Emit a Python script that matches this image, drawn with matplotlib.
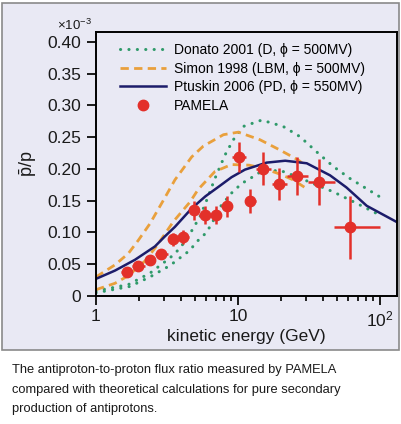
import matplotlib
matplotlib.use("Agg")
import matplotlib.pyplot as plt
from matplotlib.patches import Rectangle
from matplotlib.lines import Line2D
from matplotlib.legend_handler import HandlerLine2D
from matplotlib.ticker import FixedLocator, FixedFormatter, LogLocator, NullFormatter

plt.rcParams["font.family"] = ["Liberation Sans", "DejaVu Sans"]
plt.rcParams["mathtext.fontset"] = "custom"
plt.rcParams["mathtext.rm"] = "Liberation Sans"
plt.rcParams["mathtext.it"] = "Liberation Sans:italic"

# PAMELA antiproton / proton ratio (units of 1e-3)
pamela_e = [1.64, 1.99, 2.40, 2.87, 3.47, 4.12, 4.92, 5.86, 6.96, 8.32,
            10.2, 12.2, 15.1, 19.5, 26.0, 37.4, 61.5]
pamela_ratio = [0.038, 0.048, 0.057, 0.066, 0.089, 0.093, 0.135, 0.128, 0.128, 0.141,
                0.219, 0.150, 0.200, 0.176, 0.189, 0.179, 0.108]
pamela_err = [0.005, 0.005, 0.006, 0.007, 0.010, 0.011, 0.015, 0.014, 0.014, 0.016,
              0.024, 0.019, 0.026, 0.025, 0.030, 0.036, 0.049]
bin_lo = [1.5, 1.8, 2.2, 2.6, 3.2, 3.8, 4.5, 5.3, 6.4, 7.6,
          9.1, 11.3, 13.5, 17.5, 22.0, 30.9, 47.5]
bin_hi = [1.8, 2.2, 2.6, 3.2, 3.8, 4.5, 5.3, 6.4, 7.6, 9.1,
          11.3, 13.4, 17.0, 22.2, 30.9, 48.4, 100.0]

# Donato 2001, upper and lower curves (dotted)
donato_hi_e = [1, 1.69, 2.4, 3.32, 3.9, 4.59, 5.4, 6.0, 6.88, 8.1, 9.27, 10.9,
               14.7, 20.8, 27.3, 35.8, 46.9, 61.5, 100]
donato_hi = [0.008, 0.018, 0.036, 0.060, 0.075, 0.098, 0.125, 0.150, 0.185, 0.222, 0.246, 0.267,
             0.277, 0.267, 0.251, 0.227, 0.204, 0.185, 0.156]
donato_lo_e = [1, 1.73, 2.4, 3.32, 3.9, 4.59, 5.1, 6.0, 6.68, 7.47, 9.0, 10.6,
               12.8, 14.3, 19.7, 25.8, 46.9, 68.4, 94.7]
donato_lo = [0.005, 0.015, 0.030, 0.048, 0.060, 0.072, 0.085, 0.100, 0.118, 0.140, 0.162, 0.177,
             0.188, 0.195, 0.198, 0.188, 0.164, 0.146, 0.130]

# Simon 1998, upper and lower curves (dashed)
simon_hi_e = [1, 1.36, 1.69, 1.99, 2.4, 2.97, 3.6, 4.72, 5.7, 7.9, 10.05, 14.3, 19.7, 26.6, 30]
simon_hi = [0.030, 0.049, 0.067, 0.088, 0.114, 0.150, 0.183, 0.219, 0.236, 0.254, 0.258,
            0.246, 0.230, 0.214, 0.205]
simon_lo_e = [1, 1.36, 1.69, 2.21, 2.7, 3.5, 4.59, 5.25, 6.88, 9, 12, 15.1, 19.7, 24.4, 30]
simon_lo = [0.010, 0.020, 0.032, 0.055, 0.080, 0.117, 0.148, 0.168, 0.196, 0.207, 0.206,
            0.201, 0.192, 0.183, 0.170]

# Ptuskin 2006 (solid)
ptuskin_e = [1, 1.36, 1.88, 2.6, 3.06, 3.6, 4.72, 5.9, 7.3, 9, 11.2, 15.9, 21.5,
             30.5, 44.5, 58, 80.7, 130]
ptuskin = [0.027, 0.040, 0.057, 0.078, 0.094, 0.109, 0.138, 0.157, 0.172, 0.187, 0.199,
           0.210, 0.213, 0.209, 0.190, 0.171, 0.142, 0.117]

yticks = [0, 0.05, 0.10, 0.15, 0.20, 0.25, 0.30, 0.35, 0.40]
ytick_labels = ["0", "0.05", "0.10", "0.15", "0.20", "0.25", "0.30", "0.35", "0.40"]
xticks = [1, 10, 100]
xtick_labels = ["1", "10", "$10^2$"]

legend_labels = ["Donato 2001 (D, \u03d5 = 500MV)", "Simon 1998 (LBM, \u03d5 = 500MV)",
                 "Ptuskin 2006 (PD, \u03d5 = 550MV)", "PAMELA"]

caption = ("The antiproton-to-proton flux ratio measured by PAMELA\n"
           "compared with theoretical calculations for pure secondary\n"
           "production of antiprotons.")

BG = "#e9e9f4"
GREEN = "#2f9a6a"
ORANGE = "#e9a03c"
NAVY = "#1c1c6a"
RED = "#e3302a"


# marker at the right end of the legend handle
class RightMarker(HandlerLine2D):
    def get_xdata(self, legend, xdescent, ydescent, width, height, fontsize):
        xdata, xm = super().get_xdata(legend, xdescent, ydescent, width, height, fontsize)
        return xdata, [-xdescent + width - 3]


def main():
    W, H = 402, 424
    fig = plt.figure(figsize=(W / 100, H / 100), dpi=100)
    fig.patch.set_facecolor("white")
    fig.patches.append(Rectangle((2 / W, (H - 350) / H), 397 / W, 347 / H,
                                 transform=fig.transFigure, facecolor=BG,
                                 edgecolor="#8a8a8a", linewidth=1.2, zorder=-5))

    ax = fig.add_axes([96 / W, (H - 296) / H, 301 / W, 264 / H])
    ax.set_facecolor(BG)
    ax.set_zorder(2)

    dot = dict(color=GREEN, lw=2.2, ls=(0, (0.05, 2.7)), dash_capstyle="round")
    dash = dict(color=ORANGE, lw=2.0, ls=(0, (3.0, 1.9)))
    ax.plot(donato_hi_e, donato_hi, **dot)
    ax.plot(donato_lo_e, donato_lo, **dot)
    ax.plot(simon_hi_e, simon_hi, **dash)
    ax.plot(simon_lo_e, simon_lo, **dash)
    ax.plot(ptuskin_e, ptuskin, color=NAVY, lw=1.8)

    xerr = [[e - lo for e, lo in zip(pamela_e, bin_lo)],
            [hi - e for e, hi in zip(pamela_e, bin_hi)]]
    ax.errorbar(pamela_e, pamela_ratio, yerr=pamela_err, xerr=xerr, fmt="o",
                color=RED, ms=7.5, elinewidth=1.8, capsize=0, zorder=5)

    ax.set_xscale("log")
    ax.set_xlim(1, 131.8)
    ax.set_ylim(0, 0.4157)

    ax.xaxis.set_major_locator(FixedLocator(xticks))
    ax.xaxis.set_major_formatter(FixedFormatter(xtick_labels))
    ax.xaxis.set_minor_locator(LogLocator(base=10, subs=range(2, 10), numticks=20))
    ax.xaxis.set_minor_formatter(NullFormatter())
    ax.yaxis.set_major_locator(FixedLocator(yticks))
    ax.yaxis.set_major_formatter(FixedFormatter(ytick_labels))

    ax.tick_params(axis="both", which="major", direction="out", length=6.5, width=1.4,
                   labelsize=12.5, colors="#1a1a1a", pad=3)
    ax.tick_params(axis="x", which="minor", direction="out", length=3.5, width=1.2)
    ax.tick_params(axis="y", pad=4)
    for s in ax.spines.values():
        s.set_linewidth(1.4)

    ax.set_xlabel("kinetic energy (GeV)", fontsize=12.5, color="#1a1a1a", labelpad=0)
    ax.set_ylabel(r"$\bar{\mathrm{p}}/\mathrm{p}$", fontsize=13, color="#1a1a1a", labelpad=6)
    fig.text(57 / W, 1 - 25 / H, r"$\times10^{-3}$", fontsize=9.5, color="#1a1a1a",
             va="center", ha="left")

    handles = [Line2D([], [], **dot), Line2D([], [], **dash),
               Line2D([], [], color=NAVY, lw=1.8),
               Line2D([], [], ls="none", marker="o", color=RED, ms=7.5)]
    ax.legend(handles, legend_labels, loc="upper left", bbox_to_anchor=(0.08, 0.958),
              frameon=False, fontsize=10, handlelength=3.3, handletextpad=0.6,
              labelspacing=0.33, borderpad=0, borderaxespad=0,
              handler_map={handles[3]: RightMarker()})

    fig.text(12 / W, 1 - 364 / H, caption, fontsize=9.3, color="#1a1a1a",
             va="top", ha="left", linespacing=1.85)

    fig.savefig("out.png", dpi=100, facecolor="white")


if __name__ == "__main__":
    main()
